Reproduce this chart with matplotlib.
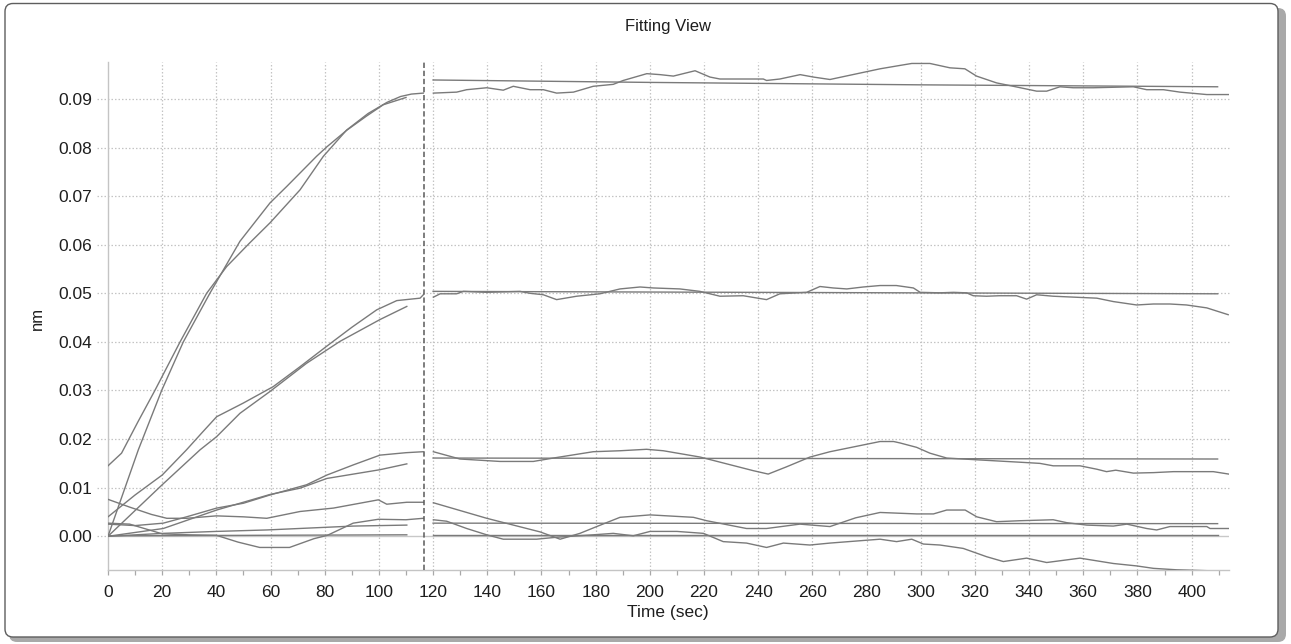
import matplotlib
matplotlib.use("Agg")
import matplotlib.pyplot as plt
import numpy as np
from matplotlib.patches import FancyBboxPatch

plt.rcParams['font.family'] = ['Liberation Sans', 'DejaVu Sans']

# ---- association phase (0 - 116.5 s) ----
a1_fit_t = [0, 11.2, 19.8, 27.8, 37.6, 48.7, 59.8, 66, 77, 80.7, 88, 95.5, 101.6, 110]
a1_fit_v = [0, 0.0178, 0.030, 0.040, 0.050, 0.0607, 0.0686, 0.072, 0.0782, 0.0801, 0.0835, 0.0865, 0.0888, 0.0903]
a1_dat_t = [0, 5, 11, 17.3, 26.6, 36.4, 43.8, 52, 59.8, 70.9, 79.5, 88.1, 96, 103, 108, 112, 116.4]
a1_dat_v = [0.0145, 0.0171, 0.0235, 0.030, 0.040, 0.050, 0.0555, 0.0602, 0.0645, 0.0713, 0.0782,
            0.0836, 0.087, 0.0893, 0.0905, 0.0910, 0.0912]

a2_fit_t = [0, 20, 34, 40.1, 48.7, 59.8, 73.3, 85.6, 100.4, 110.3]
a2_fit_v = [0, 0.0106, 0.0178, 0.0205, 0.0253, 0.0298, 0.0356, 0.0401, 0.0446, 0.0473]
a2_dat_t = [0, 10, 20, 29, 35, 40.1, 49.9, 61, 70.9, 80.7, 90, 99.2, 106.6, 115.2, 116.4]
a2_dat_v = [0.004, 0.0085, 0.0126, 0.0178, 0.0215, 0.0246, 0.0274, 0.0308, 0.0349, 0.0391,
            0.043, 0.0466, 0.0485, 0.0490, 0.0497]

a3_fit_t = [0, 20.4, 40.1, 59.8, 70.9, 80.8, 100.4, 110.3]
a3_fit_v = [0, 0.0016, 0.0054, 0.0086, 0.0099, 0.0119, 0.0137, 0.0149]
a3_dat_t = [0, 10, 20.4, 29, 40.1, 50, 59.8, 73.3, 80.8, 90.6, 100.4, 110, 116.3]
a3_dat_v = [0.0025, 0.0022, 0.0027, 0.0040, 0.0058, 0.0068, 0.0085, 0.0106, 0.0126, 0.0147,
            0.0167, 0.0172, 0.0174]

a4_fit_t = [0, 110.3]
a4_fit_v = [0.0001, 0.0003]
a4_dat_t = [0, 8, 16, 21.7, 29, 40, 50, 58.6, 70.9, 83.2, 99.8, 102.9, 110.3, 116.4]
a4_dat_v = [0.0076, 0.0060, 0.0045, 0.0037, 0.0037, 0.0042, 0.0040, 0.0037, 0.0051, 0.0058,
            0.0075, 0.0066, 0.0070, 0.0070]

a5_fit_t = [0, 20.4, 40, 58.6, 90.5, 110.3]
a5_fit_v = [0, 0.0006, 0.0010, 0.0013, 0.0021, 0.0023]
a5_dat_t = [0, 8, 20, 30, 40, 48, 56, 67, 76, 81, 90.5, 99.8, 110, 116.4]
a5_dat_v = [0.0027, 0.0025, 0.0005, 0.0003, 0.0002, -0.0012, -0.0023, -0.0023, -0.0005, 0.0002,
            0.0027, 0.0035, 0.0034, 0.0037]

# ---- dissociation phase (120 - 414 s) ----
d1_fit_t = [120, 200, 300, 409.6]
d1_fit_v = [0.0939, 0.0934, 0.0929, 0.0925]
d1_dat_t = [120.1, 128.7, 132.4, 139.8, 145.9, 149.6, 155.8, 160.7, 165.6, 171.8, 179.1, 186.5,
            190.2, 198.9, 203.8, 208.7, 216.7, 222.2, 225.9, 241.9, 243.1, 248, 255.5, 260.4,
            266.5, 285, 292.4, 296.7, 303.4, 310.8, 316.3, 320.6, 328, 334.2, 342.8, 346.5,
            351.4, 356.3, 363.7, 378.5, 383.4, 389.6, 395.7, 405.6, 413.7]
d1_dat_v = [0.0912, 0.0914, 0.0919, 0.0923, 0.0918, 0.0926, 0.0919, 0.0919, 0.0912, 0.0914,
            0.0926, 0.0930, 0.0938, 0.0952, 0.0950, 0.0947, 0.0958, 0.0945, 0.0941, 0.0941,
            0.0938, 0.0941, 0.0950, 0.0945, 0.0940, 0.0962, 0.0969, 0.0973, 0.0973, 0.0964,
            0.0962, 0.0947, 0.0933, 0.0926, 0.0916, 0.0916, 0.0925, 0.0923, 0.0923, 0.0925,
            0.0919, 0.0919, 0.0914, 0.0909, 0.0909]

d2_fit_t = [120, 409.6]
d2_fit_v = [0.0504, 0.0499]
d2_dat_t = [120.1, 122.6, 128.7, 131.2, 139.7, 152.1, 155.8, 160.7, 165.6, 173, 181.6, 189,
            196.4, 201.3, 211.1, 218.5, 225.9, 234.5, 243.1, 248, 257.9, 262.8, 267.7, 272.7,
            278.8, 285, 291, 297.3, 299.8, 307.1, 312.1, 316.9, 319.4, 324.3, 329, 335.4,
            339.1, 342.8, 348.9, 365, 371.1, 379.7, 385.9, 392, 398.1, 405.6, 413.5]
d2_dat_v = [0.0492, 0.0499, 0.0499, 0.0504, 0.0502, 0.0504, 0.0500, 0.0497, 0.0487, 0.0494,
            0.0499, 0.0509, 0.0513, 0.0511, 0.0509, 0.0504, 0.0494, 0.0495, 0.0487, 0.0499,
            0.0502, 0.0514, 0.0511, 0.0509, 0.0513, 0.0516, 0.0516, 0.0511, 0.0502, 0.0501,
            0.0502, 0.0501, 0.0495, 0.0494, 0.0495, 0.0495, 0.0488, 0.0497, 0.0494, 0.0490,
            0.0483, 0.0476, 0.0478, 0.0478, 0.0476, 0.0470, 0.0456]

d3_fit_t = [120, 409.6]
d3_fit_v = [0.0161, 0.0159]
d3_dat_t = [120.1, 129.9, 144.7, 157, 164.4, 179.1, 189, 198.8, 205, 218.6, 228.4, 238.2,
            243.7, 250.5, 259.1, 266.5, 285, 290, 292.4, 298.5, 303.4, 309.6, 321.9, 337.9,
            344, 348.9, 358.8, 365, 368.6, 372, 378.5, 386, 393.3, 408, 413.7]
d3_dat_v = [0.0174, 0.0159, 0.0154, 0.0154, 0.0161, 0.0174, 0.0176, 0.0179, 0.0176, 0.0163,
            0.0149, 0.0135, 0.0128, 0.0143, 0.0163, 0.0174, 0.0195, 0.0195, 0.0192, 0.0183,
            0.0171, 0.0161, 0.0157, 0.0152, 0.0150, 0.0145, 0.0145, 0.0138, 0.0133, 0.0136,
            0.0130, 0.0131, 0.0133, 0.0133, 0.0128]

d4_fit_t = [120, 409.6]
d4_fit_v = [0.0003, 0.0003]
d4_dat_t = [120.1, 139.8, 159.5, 166.9, 174.2, 180.4, 189, 200.1, 216.1, 221, 235.7, 243.1,
            255.4, 266.5, 276, 285, 298.5, 304.7, 309.6, 316.4, 320.7, 328, 336.6, 348.9,
            353.9, 361.3, 371.1, 376.1, 383.4, 387.1, 392, 405.6, 406.8, 413.7]
d4_dat_v = [0.0069, 0.0037, 0.0009, -0.0006, 0.0006, 0.0020, 0.0039, 0.0044, 0.0039, 0.0032,
            0.0016, 0.0016, 0.0025, 0.0020, 0.0038, 0.0049, 0.0046, 0.0046, 0.0054, 0.0054,
            0.0040, 0.0030, 0.0032, 0.0034, 0.0028, 0.0023, 0.0021, 0.0025, 0.0016, 0.0013,
            0.0020, 0.0020, 0.0016, 0.0016]

d5_fit_t = [120, 409.6]
d5_fit_v = [0.0027, 0.0026]
d5_dat_t = [120.1, 125, 132.4, 139.8, 145.9, 158.2, 165.6, 179.1, 186.5, 193.9, 200.1, 210,
            219.8, 227.1, 235.7, 243.1, 249.3, 259.1, 266.5, 285, 291.1, 296.7, 301, 307.1,
            315.7, 324.3, 330.5, 339.1, 346.5, 358.8, 371.1, 379.7, 385.9, 394.5, 406.8, 413.7]
d5_dat_v = [0.0034, 0.0031, 0.0016, 0.0003, -0.0006, -0.0006, -0.0002, 0.0003, 0.0006, 0.0001,
            0.0010, 0.0010, 0.0006, -0.0011, -0.0014, -0.0023, -0.0014, -0.0018, -0.0014,
            -0.0006, -0.0011, -0.0006, -0.0016, -0.0018, -0.0025, -0.0042, -0.0052, -0.0045,
            -0.0054, -0.0045, -0.0056, -0.0061, -0.0066, -0.0069, -0.0071, -0.0074]

assoc_fits = [(a1_fit_t, a1_fit_v), (a2_fit_t, a2_fit_v), (a3_fit_t, a3_fit_v),
              (a4_fit_t, a4_fit_v), (a5_fit_t, a5_fit_v)]
assoc_data = [(a1_dat_t, a1_dat_v), (a2_dat_t, a2_dat_v), (a3_dat_t, a3_dat_v),
              (a4_dat_t, a4_dat_v), (a5_dat_t, a5_dat_v)]
dissoc_fits = [(d1_fit_t, d1_fit_v), (d2_fit_t, d2_fit_v), (d3_fit_t, d3_fit_v),
               (d4_fit_t, d4_fit_v), (d5_fit_t, d5_fit_v)]
dissoc_data = [(d1_dat_t, d1_dat_v), (d2_dat_t, d2_dat_v), (d3_dat_t, d3_dat_v),
               (d4_dat_t, d4_dat_v), (d5_dat_t, d5_dat_v)]

step_time = 116.5
x_ticks = list(range(0, 401, 20))
y_ticks = [0.00, 0.01, 0.02, 0.03, 0.04, 0.05, 0.06, 0.07, 0.08, 0.09]

W, H = 1291, 644
fig = plt.figure(figsize=(W / 100, H / 100), dpi=100)
fig.patch.set_facecolor('white')

# panel frame with shadow and header gradient, drawn in pixel coords
bg = fig.add_axes([0, 0, 1, 1], zorder=0)
bg.set_xlim(0, W)
bg.set_ylim(H, 0)
bg.axis('off')
shadow = FancyBboxPatch((9, 8), 1277, 634, boxstyle="round,pad=0,rounding_size=8",
                        fc='#a9a9a9', ec='none')
bg.add_patch(shadow)
frame_fill = FancyBboxPatch((5, 3.5), 1273, 633.5, boxstyle="round,pad=0,rounding_size=8",
                            fc='white', ec='none')
bg.add_patch(frame_fill)
grad = np.ones((640, 1))
rows = np.arange(640)
grad[:, 0] = np.clip(0.895 + 0.105 * rows / 105.0, 0, 1)
im = bg.imshow(grad, cmap='gray', vmin=0, vmax=1, aspect='auto',
               extent=(5, 1278, 640, 0), interpolation='bilinear')
im.set_clip_path(frame_fill)
frame = FancyBboxPatch((5, 3.5), 1273, 633.5, boxstyle="round,pad=0,rounding_size=8",
                       fc='none', ec='#5e5e5e', lw=1.0)
bg.add_patch(frame)

ax = fig.add_axes([108 / W, 74 / H, (1229 - 108) / W, (570 - 62) / H], zorder=1)
ax.set_facecolor('none')
ax.set_xlim(0, 413.8)
ax.set_ylim(-0.00694, 0.0976)

grid_kw = dict(color='#c4c4c4', lw=0.9, linestyle=(0, (1.2, 1.6)), zorder=1)
ax.vlines(x_ticks[1:], 0, 1, transform=ax.get_xaxis_transform(), **grid_kw)
ax.hlines(y_ticks[1:], -0.010, 1, transform=ax.get_yaxis_transform(), clip_on=False, **grid_kw)
ax.hlines([0], -0.010, 0, transform=ax.get_yaxis_transform(), clip_on=False, **grid_kw)
ax.axhline(0, color='#c8c8c8', lw=1.0, zorder=1.5)

line_kw = dict(color='#7a7a7a', lw=1.0, zorder=3)
for t, v in assoc_fits + assoc_data + dissoc_fits + dissoc_data:
    ax.plot(t, v, **line_kw)

ax.axvline(step_time, color='#5a5a5a', lw=1.1, linestyle=(0, (3.5, 1.8)), zorder=4)

for side in ('top', 'right'):
    ax.spines[side].set_visible(False)
for side in ('left', 'bottom'):
    ax.spines[side].set_color('#c4c4c4')
    ax.spines[side].set_linewidth(1.0)

ax.set_xticks(x_ticks)
ax.set_xticks(np.arange(10, 414, 20), minor=True)
ax.set_yticks(y_ticks)
ax.set_yticklabels(['%.2f' % y for y in y_ticks])
ax.tick_params(axis='x', which='both', length=3.6, width=0.9, color='#a8a8a8',
               labelsize=12.5, labelcolor='#1e1e1e', pad=7)
ax.tick_params(axis='y', length=0, labelsize=12.5, labelcolor='#1e1e1e', pad=11.5)

fig.text(668 / W, 1 - 27 / H, 'Fitting View', ha='center', va='center',
         fontsize=12, color='#1e1e1e')
fig.text(668 / W, 1 - 612 / H, 'Time (sec)', ha='center', va='center',
         fontsize=12.5, color='#1e1e1e')
fig.text(37 / W, 1 - 318 / H, 'nm', ha='center', va='center', rotation=90,
         fontsize=12, color='#1e1e1e')

fig.savefig('out.png', dpi=100)
